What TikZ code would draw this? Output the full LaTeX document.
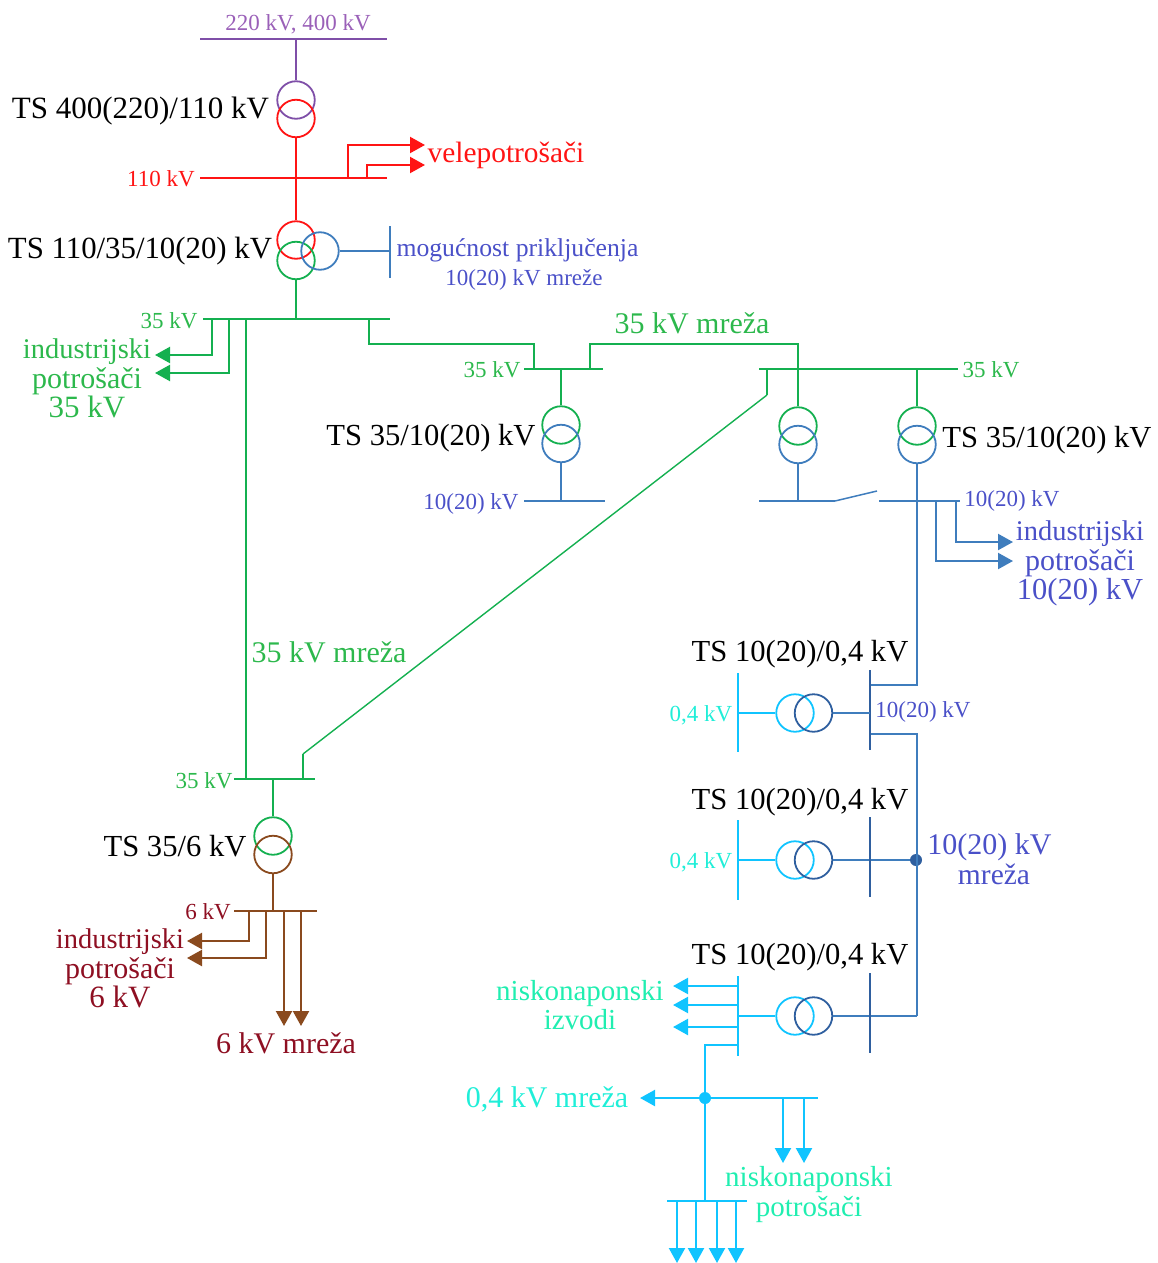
\documentclass[tikz,border=0pt]{standalone}
\usepackage{fontspec}
\setmainfont{Liberation Serif}
\usetikzlibrary{arrows.meta, positioning}
\definecolor{cHigh}{HTML}{7F4FA8}
\definecolor{cRed}{HTML}{FF1414}
\definecolor{cGreen}{HTML}{14B050}
\definecolor{cBlue}{HTML}{3F7DBD}
\definecolor{cDark}{HTML}{2F5F9F}
\definecolor{cCyan}{HTML}{10C4FF}
\definecolor{cBrown}{HTML}{8A4A1E}
\definecolor{tHigh}{HTML}{9A60B8}
\definecolor{tGreen}{HTML}{2CB84C}
\definecolor{tBlue}{HTML}{4A50C8}
\definecolor{tMint}{HTML}{20EEB0}
\definecolor{tAqua}{HTML}{20EED8}
\definecolor{tWine}{HTML}{8E0F22}
\newcommand{\sz}[1]{\fontsize{#1}{29.5}\selectfont}
\tikzstyle{winding} = [circle, minimum size=37.5pt, inner sep=0pt, line width=1.8pt]
\tikzstyle{line} = [line width=2.2pt]
\tikzstyle{arrow} = [line width=2.2pt,-{Triangle[length=15pt,width=16pt]}]
\tikzstyle{big} = [inner sep=0pt, align=center, yshift=-2.5pt, font=\fontsize{30.6}{29.5}\selectfont]
\tikzstyle{small} = [inner sep=0pt, align=center, yshift=-1.5pt, font=\fontsize{23}{26}\selectfont]

\begin{document}
\begin{tikzpicture}[x=1pt,y=-1pt,node distance=18.5pt]
	\useasboundingbox (0,0) rectangle (1158,1263);

	% Transformers
	\node (trHighA) [winding, draw=cHigh] at (296,100) {};
	\node (trHighB) [winding, draw=cRed, below of=trHighA] {};
	\node (trMainA) [winding, draw=cRed] at (296,240) {};
	\node (trMainB) [winding, draw=cGreen, below of=trMainA, yshift=-2pt] {};
	\node (trMainC) [winding, draw=cBlue] at (320,251) {};
	\node (trLeftA) [winding, draw=cGreen] at (561,425) {};
	\node (trLeftB) [winding, draw=cBlue, below of=trLeftA] {};
	\node (trMidA) [winding, draw=cGreen] at (798,426) {};
	\node (trMidB) [winding, draw=cBlue, below of=trMidA] {};
	\node (trRightA) [winding, draw=cGreen] at (917,426) {};
	\node (trRightB) [winding, draw=cBlue, below of=trRightA] {};
	\node (trSixA) [winding, draw=cGreen] at (273,836) {};
	\node (trSixB) [winding, draw=cBrown, below of=trSixA] {};
	\node (trOneA) [winding, draw=cCyan] at (795,713) {};
	\node (trOneB) [winding, draw=cDark, right of=trOneA] {};
	\node (trTwoA) [winding, draw=cCyan] at (795,860) {};
	\node (trTwoB) [winding, draw=cDark, right of=trTwoA] {};
	\node (trThreeA) [winding, draw=cCyan] at (795,1016) {};
	\node (trThreeB) [winding, draw=cDark, right of=trThreeA] {};

	% Labels
	\node (lblHigh) [small, text=tHigh] at (298,22.5) {220 kV, 400 kV};
	\node (lblTsHigh) [big, font=\sz{31}] at (140.5,109) {TS 400(220)/110 kV};
	\node (lblRed) [small, text=cRed] at (161,177) {110 kV};
	\node (lblBulk) [big, text=cRed, font=\sz{29.4}] at (506,153) {velepotrošači};
	\node (lblTsMain) [big, font=\sz{30.8}] at (140,249) {TS 110/35/10(20) kV};
	\node (lblOption) [small, text=tBlue, font=\sz{25.7}] at (517.5,248.5) {mogućnost priključenja};
	\node (lblOptionB) [small, text=tBlue, font=\sz{23}] at (524,278) {10(20) kV mreže};
	\node (lblBusA) [small, text=tGreen] at (169,319) {35 kV};
	\node (lblIndA) [big, text=tGreen] at (87,376) {\sz{28.5}industrijski\\\sz{30}potrošači\\\sz{31}35 kV};
	\node (lblNetA) [big, text=tGreen, font=\sz{30}] at (692,320.5) {35 kV mreža};
	\node (lblBusB) [small, text=tGreen] at (492,368) {35 kV};
	\node (lblTsLeft) [big] at (431,436) {TS 35/10(20) kV};
	\node (lblBusC) [small, text=tGreen] at (991,368) {35 kV};
	\node (lblTsRight) [big] at (1047,438) {TS 35/10(20) kV};
	\node (lblMidA) [small, text=tBlue] at (471,502) {10(20) kV};
	\node (lblMidB) [small, text=tBlue] at (1012,499) {10(20) kV};
	\node (lblIndB) [big, text=tBlue] at (1080,561) {\sz{28.5}industrijski\\\sz{30}potrošači\\\sz{30.5}10(20) kV};
	\node (lblNetB) [big, text=tGreen, font=\sz{30}] at (329,649.5) {35 kV mreža};
	\node (lblTsOne) [big] at (800,652) {TS 10(20)/0,4 kV};
	\node (lblTsTwo) [big] at (800,800) {TS 10(20)/0,4 kV};
	\node (lblTsThree) [big] at (800,955) {TS 10(20)/0,4 kV};
	\node (lblLowA) [small, text=tAqua] at (701,714) {0,4 kV};
	\node (lblLowB) [small, text=tAqua] at (701,861) {0,4 kV};
	\node (lblMidC) [small, text=tBlue] at (923,710.5) {10(20) kV};
	\node (lblNetC) [big, text=tBlue, font=\sz{30}] at (989.5,845) {10(20) kV};
	\node (lblNetCB) [big, text=tBlue, font=\sz{29.5}] at (994,871.5) {mreža};
	\node (lblFeeders) [big, text=tMint, font=\sz{29}] at (580,1002.5) {niskonaponski\\izvodi};
	\node (lblNetD) [big, text=tAqua, font=\sz{30}] at (547,1097) {0,4 kV mreža};
	\node (lblLowUsers) [big, text=tMint, font=\sz{29}] at (809,1192) {niskonaponski\\potrošači};
	\node (lblTsSix) [big] at (175,843.5) {TS 35/6 kV};
	\node (lblBusD) [small, text=tGreen] at (204,779) {35 kV};
	\node (lblSix) [small, text=tWine] at (208,910) {6 kV};
	\node (lblIndC) [big, text=tWine] at (120,966) {\sz{28.5}industrijski\\\sz{30}potrošači\\\sz{31}6 kV};
	\node (lblNetE) [big, text=tWine, font=\sz{30}] at (286,1040.5) {6 kV mreža};

	% Bus ends and branch points
	\coordinate (hvL) at (200,39);
	\coordinate (hvR) at (387,39);
	\coordinate (hvT) at (296,39);
	\coordinate (redL) at (200,178);
	\coordinate (redR) at (387,178);
	\coordinate (redA) at (348,178);
	\coordinate (redB) at (367,178);
	\coordinate (bulkA) at (425,145);
	\coordinate (bulkB) at (425,165);
	\coordinate (optT) at (390,226);
	\coordinate (optB) at (390,278);
	\coordinate (optM) at (390,251);
	\coordinate (gaL) at (203,319);
	\coordinate (gaR) at (390,319);
	\coordinate (gaC) at (296,319);
	\coordinate (gaA) at (212,319);
	\coordinate (gaB) at (229,319);
	\coordinate (gaD) at (246,319);
	\coordinate (gaE) at (369,319);
	\coordinate (indA) at (155,355);
	\coordinate (indB) at (155,373);
	\coordinate (upA) at (369,344);
	\coordinate (upB) at (534,344);
	\coordinate (gbL) at (524,369);
	\coordinate (gbR) at (603,369);
	\coordinate (gbA) at (534,369);
	\coordinate (gbB) at (590,369);
	\coordinate (gbC) at (561,369);
	\coordinate (upC) at (590,344);
	\coordinate (upD) at (798,344);
	\coordinate (gcL) at (759,369);
	\coordinate (gcR) at (958,369);
	\coordinate (gcA) at (767,369);
	\coordinate (gcB) at (917,369);
	\coordinate (diagA) at (767,395);
	\coordinate (diagB) at (303,754);
	\coordinate (gdL) at (234,779);
	\coordinate (gdR) at (315,779);
	\coordinate (gdA) at (246,779);
	\coordinate (gdB) at (303,779);
	\coordinate (gdC) at (273,779);
	\coordinate (brL) at (234,911);
	\coordinate (brR) at (317,911);
	\coordinate (brC) at (273,911);
	\coordinate (brA) at (249,911);
	\coordinate (brB) at (266,911);
	\coordinate (brD) at (284,911);
	\coordinate (brE) at (301,911);
	\coordinate (sixA) at (187,941);
	\coordinate (sixB) at (187,958);
	\coordinate (sixC) at (284,1026);
	\coordinate (sixD) at (301,1026);
	\coordinate (blL) at (524,501);
	\coordinate (blR) at (605,501);
	\coordinate (blC) at (561,501);
	\coordinate (bmL) at (759,501);
	\coordinate (bmR) at (835,501);
	\coordinate (bmC) at (798,501);
	\coordinate (swTip) at (877,491);
	\coordinate (bnL) at (879,501);
	\coordinate (bnR) at (960,501);
	\coordinate (bnA) at (956,501);
	\coordinate (bnB) at (936,501);
	\coordinate (indD) at (1013,542);
	\coordinate (indE) at (1013,561);
	\coordinate (feedTop) at (870,685);
	\coordinate (feedLow) at (870,734);
	\coordinate (feedEnd) at (917,1016);
	\coordinate (oneRT) at (870,670);
	\coordinate (oneRB) at (870,750);
	\coordinate (oneRM) at (870,713);
	\coordinate (oneLT) at (738,673);
	\coordinate (oneLB) at (738,752);
	\coordinate (oneLM) at (738,713);
	\coordinate (twoRT) at (870,817);
	\coordinate (twoRB) at (870,897);
	\coordinate (twoLT) at (738,820);
	\coordinate (twoLB) at (738,900);
	\coordinate (twoLM) at (738,860);
	\coordinate (thrRT) at (870,973);
	\coordinate (thrRB) at (870,1053);
	\coordinate (thrLT) at (738,976);
	\coordinate (thrLB) at (738,1056);
	\coordinate (thrLM) at (738,1016);
	\coordinate (thrA) at (738,986);
	\coordinate (thrB) at (738,1005);
	\coordinate (thrC) at (738,1027);
	\coordinate (thrD) at (738,1045);
	\coordinate (tipA) at (673,986);
	\coordinate (tipB) at (673,1005);
	\coordinate (tipC) at (673,1027);
	\coordinate (lowL) at (640,1098);
	\coordinate (lowR) at (818,1098);
	\coordinate (lowA) at (783,1098);
	\coordinate (lowB) at (804,1098);
	\coordinate (lowTipA) at (783,1163);
	\coordinate (lowTipB) at (804,1163);
	\coordinate (endL) at (667,1201);
	\coordinate (endR) at (747,1201);
	\coordinate (endC) at (705,1201);
	\coordinate (endA) at (677,1201);
	\coordinate (endB) at (696,1201);
	\coordinate (endD) at (717,1201);
	\coordinate (endE) at (736,1201);
	\coordinate (endTipA) at (677,1263);
	\coordinate (endTipB) at (696,1263);
	\coordinate (endTipC) at (717,1263);
	\coordinate (endTipD) at (736,1263);

	% Dots
	\node (dotNet) [circle, fill=cDark, minimum size=12pt, inner sep=0pt] at (916,860) {};
	\node (dotLow) [circle, fill=cCyan, minimum size=12pt, inner sep=0pt] at (705,1098) {};

	% Lines
	\draw [line, cHigh] (hvL) -- (hvR);
	\draw [line, cHigh] (hvT) -- (trHighA);
	\draw [line, cRed] (redL) -- (redR);
	\draw [line, cRed] (trHighB) -- (trMainA);
	\draw [arrow, cRed] (redA) |- (bulkA);
	\draw [arrow, cRed] (redB) |- (bulkB);
	\draw [line, cBlue] (trMainC) -- (optM);
	\draw [line, cBlue, line width=1.5pt] (optT) -- (optB);
	\draw [line, cGreen] (gaL) -- (gaR);
	\draw [line, cGreen] (trMainB) -- (gaC);
	\draw [arrow, cGreen] (gaA) |- (indA);
	\draw [arrow, cGreen] (gaB) |- (indB);
	\draw [line, cGreen] (gaD) -- (gdA);
	\draw [line, cGreen] (gaE) -- (upA) -- (upB) -- (gbA);
	\draw [line, cGreen] (gbL) -- (gbR);
	\draw [line, cGreen] (gbC) -- (trLeftA);
	\draw [line, cGreen] (gbB) -- (upC) -- (upD) -- (trMidA);
	\draw [line, cGreen] (gcL) -- (gcR);
	\draw [line, cGreen] (gcB) -- (trRightA);
	\draw [line, cGreen] (gcA) -- (diagA);
	\draw [cGreen, line width=1.4pt] (diagA) -- (diagB);
	\draw [line, cGreen] (diagB) -- (gdB);
	\draw [line, cGreen] (gdL) -- (gdR);
	\draw [line, cGreen] (gdC) -- (trSixA);
	\draw [line, cBrown] (trSixB) -- (brC);
	\draw [line, cBrown] (brL) -- (brR);
	\draw [arrow, cBrown] (brA) |- (sixA);
	\draw [arrow, cBrown] (brB) |- (sixB);
	\draw [arrow, cBrown] (brD) -- (sixC);
	\draw [arrow, cBrown] (brE) -- (sixD);
	\draw [line, cBlue] (trLeftB) -- (blC);
	\draw [line, cBlue] (blL) -- (blR);
	\draw [line, cBlue] (trMidB) -- (bmC);
	\draw [line, cBlue] (bmL) -- (bmR);
	\draw [cBlue, line width=1.5pt] (bmR) -- (swTip);
	\draw [line, cBlue] (bnL) -- (bnR);
	\draw [arrow, cBlue] (bnA) |- (indD);
	\draw [arrow, cBlue] (bnB) |- (indE);
	\draw [line, cBlue] (trRightB) |- (feedTop);
	\draw [line, cBlue] (feedLow) -| (feedEnd);
	\draw [line, cBlue] (feedEnd) -- (trThreeB);
	\draw [line, cBlue] (dotNet) -- (trTwoB);
	\draw [line, cDark] (oneRT) -- (oneRB);
	\draw [line, cDark] (twoRT) -- (twoRB);
	\draw [line, cDark] (thrRT) -- (thrRB);
	\draw [line, cBlue] (oneRM) -- (trOneB);
	\draw [line, cCyan] (oneLT) -- (oneLB);
	\draw [line, cCyan] (twoLT) -- (twoLB);
	\draw [line, cCyan] (thrLT) -- (thrLB);
	\draw [line, cCyan] (oneLM) -- (trOneA);
	\draw [line, cCyan] (twoLM) -- (trTwoA);
	\draw [line, cCyan] (thrLM) -- (trThreeA);
	\draw [arrow, cCyan] (thrA) -- (tipA);
	\draw [arrow, cCyan] (thrB) -- (tipB);
	\draw [arrow, cCyan] (thrC) -- (tipC);
	\draw [line, cCyan] (thrD) -| (endC);
	\draw [arrow, cCyan] (dotLow) -- (lowL);
	\draw [line, cCyan] (dotLow) -- (lowR);
	\draw [arrow, cCyan] (lowA) -- (lowTipA);
	\draw [arrow, cCyan] (lowB) -- (lowTipB);
	\draw [line, cCyan] (endL) -- (endR);
	\draw [arrow, cCyan] (endA) -- (endTipA);
	\draw [arrow, cCyan] (endB) -- (endTipB);
	\draw [arrow, cCyan] (endD) -- (endTipC);
	\draw [arrow, cCyan] (endE) -- (endTipD);
\end{tikzpicture}
\end{document}
